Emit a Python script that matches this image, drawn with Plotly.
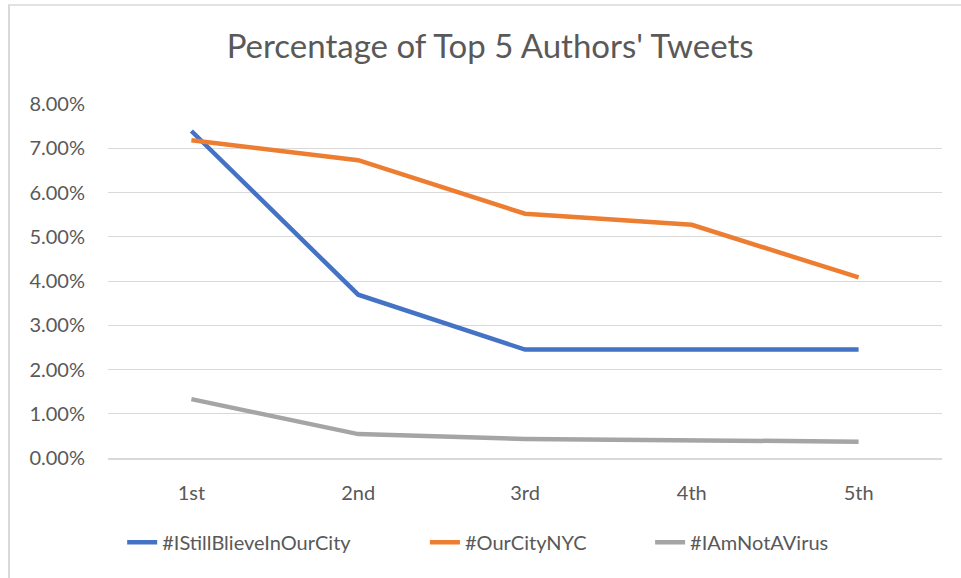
import plotly.graph_objects as go

categories = ["1st", "2nd", "3rd", "4th", "5th"]
still_believe = [0.0739, 0.0369, 0.0245, 0.0245, 0.0245]
our_city_nyc = [0.0718, 0.0673, 0.0552, 0.0527, 0.0408]
not_a_virus = [0.0133, 0.0054, 0.0043, 0.0039, 0.0037]
series_names = ["#IStillBlieveInOurCity", "#OurCityNYC", "#IAmNotAVirus"]
colors = ["#4472C4", "#ED7D31", "#A5A5A5"]
y_ticks = [0, 0.01, 0.02, 0.03, 0.04, 0.05, 0.06, 0.07, 0.08]

legend_ids = ["legend", "legend2", "legend3"]
legend_x = [0.017, 0.380, 0.650]

fig = go.Figure()
for name, vals, col, lid in zip(series_names, [still_believe, our_city_nyc, not_a_virus],
                                colors, legend_ids):
    fig.add_trace(go.Scatter(x=categories, y=vals, name=name, mode="lines",
                             line=dict(color=col, width=4.5), legend=lid))

font_family = "Lato, 'Open Sans', sans-serif"
legend_common = dict(orientation="h", xanchor="left", y=-0.238, yanchor="middle",
                     font=dict(size=20, color="#595959"), bgcolor="rgba(0,0,0,0)")

fig.update_layout(
    width=961, height=578,
    margin=dict(l=108, r=19, t=104, b=120),
    paper_bgcolor="white", plot_bgcolor="white",
    title=dict(text="Percentage of Top 5 Authors' Tweets", x=0.51, xanchor="center",
               y=1 - 46 / 578, yanchor="middle",
               font=dict(family=font_family, size=33, color="#595959")),
    font=dict(family=font_family, size=20, color="#595959"),
    showlegend=True,
    legend=dict(x=legend_x[0], **legend_common),
    legend2=dict(x=legend_x[1], **legend_common),
    legend3=dict(x=legend_x[2], **legend_common),
    xaxis=dict(showgrid=False, showline=True, linecolor="#D9D9D9", linewidth=1.5,
               range=[-0.5, 4.5], ticks="", ticklabelstandoff=16, zeroline=False),
    yaxis=dict(range=[0, 0.08], tickvals=y_ticks, tickformat=".2%",
               showgrid=True, gridcolor="#D9D9D9", gridwidth=1.2,
               showline=False, zeroline=False, ticks="", ticklabelstandoff=22),
    shapes=[
        dict(type="line", xref="paper", yref="paper", x0=-100/834, x1=1.1,
             y0=1 + 99/354, y1=1 + 99/354, line=dict(color="#D9D9D9", width=1.5)),
        dict(type="line", xref="paper", yref="paper", x0=-99/834, x1=-99/834,
             y0=1 + 99/354, y1=-0.4, line=dict(color="#D9D9D9", width=2)),
    ],
)

fig.write_html("out.html")
